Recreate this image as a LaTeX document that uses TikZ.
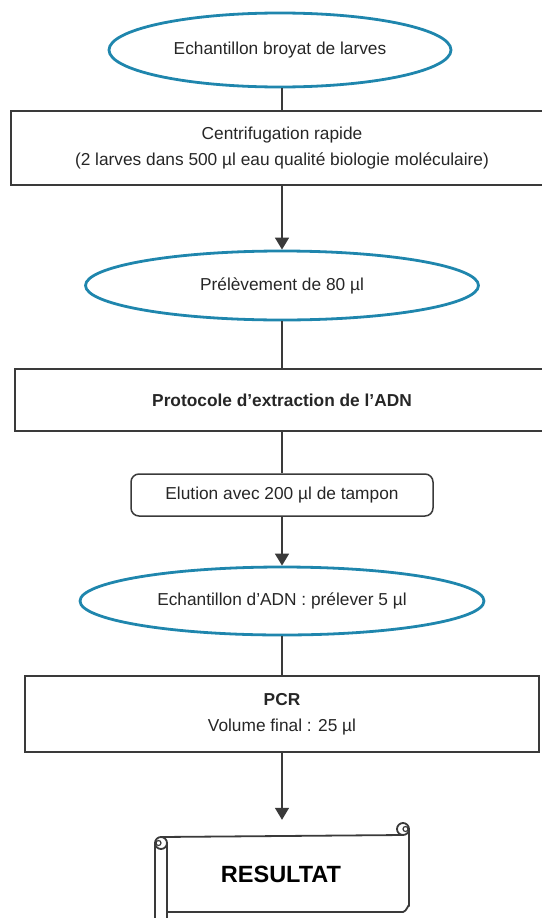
\documentclass[tikz,border=0pt]{standalone}
\usepackage{fontspec}
\setmainfont{Liberation Sans}
\usetikzlibrary{shapes.geometric,arrows.meta}
\definecolor{ovalblue}{HTML}{1F86AD}
\definecolor{linegray}{HTML}{3A3A3A}

\begin{document}
\begin{tikzpicture}[x=1pt, y=-1pt,
  every node/.style={font=\fontsize{17.3}{26.5}\selectfont, text=black!85},
  oval/.style={ellipse, draw=ovalblue, line width=2.8pt, inner sep=0pt},
  stepbox/.style={rectangle, draw=linegray, line width=1.8pt, align=center},
  link/.style={draw=linegray, line width=1.5pt},
  arrowlink/.style={link, -{Triangle[width=14pt,length=12pt]}},
  scrollline/.style={linegray, line width=1.8pt, line join=round}]
\useasboundingbox (0,0) rectangle (541,918);
\node[oval, minimum width=342pt, minimum height=74pt] (broyat) at (280,50) {Echantillon broyat de larves};
\node[stepbox, minimum width=542pt, minimum height=74pt] (centrif) at (282,148) {Centrifugation rapide\\(2 larves dans 500 µl eau qualité biologie moléculaire)};
\node[oval, minimum width=393pt, minimum height=69pt] (prelev) at (282,285.5) {Prélèvement de 80 µl};
\node[stepbox, minimum width=534pt, minimum height=62pt, font=\fontsize{17.3}{26.5}\selectfont\bfseries] (extract) at (282,400) {Protocole d’extraction de l’ADN};
\node[stepbox, rounded corners=8pt, line width=1.5pt, minimum width=302pt, minimum height=42pt] (elution) at (282,495) {Elution avec 200 µl de tampon};
\node[oval, minimum width=404pt, minimum height=68pt] (adn) at (282,601) {Echantillon d’ADN : prélever 5 µl};
\node[stepbox, minimum width=514pt, minimum height=76pt] (pcr) at (282,714) {\textbf{PCR}\\Volume final : 25 µl};
\node[minimum width=240pt, minimum height=76pt, font=\fontsize{23.5}{28}\selectfont\bfseries, text=black] (result) at (281,874) {RESULTAT};
\draw[link] (broyat.south -| centrif.north) -- (centrif);
\draw[arrowlink] (centrif) -- (prelev);
\draw[link] (prelev) -- (extract);
\draw[link] (extract) -- (elution);
\draw[arrowlink] (elution) -- (adn);
\draw[link] (adn) -- (pcr);
\draw[arrowlink, shorten >=16pt] (pcr) -- (pcr.south |- result.north);
\draw[scrollline] (161,837) -- (403,835);
\draw[scrollline] (403,829) circle[radius=6];
\draw[scrollline] (409,829) -- (409,906) to[out=90, in=0] (403,912) -- (167,912);
\draw[scrollline] (161,843) circle[radius=6];
\draw[linegray, line width=1.2pt] (158.5,843) circle[radius=2.5];
\draw[linegray, line width=1.2pt] (405.5,829) circle[radius=2.5];
\draw[scrollline] (155,843) -- (155,920);
\draw[scrollline] (167,843) -- (167,920);
\end{tikzpicture}
\end{document}
